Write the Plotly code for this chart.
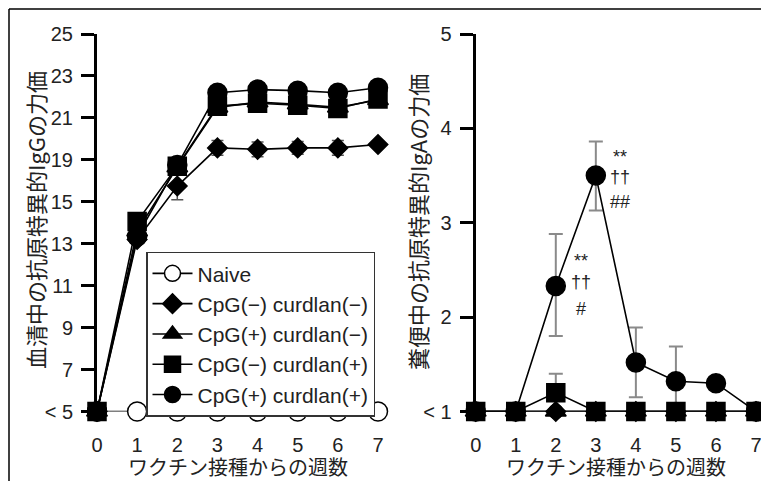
import numpy as np
import plotly.graph_objects as go

weeks = [0, 1, 2, 3, 4, 5, 6, 7]

# Left panel: serum antigen-specific IgG titer (axis is evenly spaced ticks)
igg_tick_vals = [5, 7, 9, 11, 13, 15, 19, 21, 23, 25]
igg_tick_text = ["< 5", "7", "9", "11", "13", "15", "19", "21", "23", "25"]

igg_naive = [5, 5, 5, 5, 5, 5, 5, 5]
igg_cpg_m_cur_m = [5, 13.2, 16.5, 19.57, 19.5, 19.57, 19.57, 19.73]
igg_cpg_m_cur_m_err = [0, 0, 1.3, 0.35, 0.35, 0.3, 0.35, 0.1]
igg_cpg_p_cur_m = [5, 13.6, 18.3, 21.5, 21.75, 21.65, 21.5, 21.85]
igg_cpg_m_cur_p = [5, 14.06, 18.4, 21.56, 21.7, 21.6, 21.45, 21.9]
igg_cpg_p_cur_p = [5, 13.35, 18.5, 22.2, 22.35, 22.3, 22.2, 22.44]

# Right panel: fecal antigen-specific IgA titer
iga_tick_vals = [1, 2, 3, 4, 5]
iga_tick_text = ["< 1", "2", "3", "4", "5"]

iga_naive = [1, 1, 1, 1, 1, 1, 1, 1]
iga_cpg_m_cur_m = [1, 1, 1, 1, 1, 1, 1, 1]
iga_cpg_p_cur_m = [1, 1, 1.0, 1, 1, 1, 1, 1]
iga_cpg_m_cur_p = [1, 1, 1.2, 1, 1, 1, 1, 1]
iga_cpg_m_cur_p_err = [0, 0, 0.2, 0, 0, 0, 0, 0]
iga_cpg_p_cur_p = [1, 1, 2.33, 3.5, 1.52, 1.32, 1.3, 1.0]
iga_cpg_p_cur_p_err_up = [0, 0, 0.55, 0.36, 0.37, 0.37, 0, 0]
iga_cpg_p_cur_p_err_dn = [0, 0, 0.53, 0.37, 0.37, 0.3, 0, 0]

names = ["Naive", "CpG(\u2212) curdlan(\u2212)", "CpG(+) curdlan(\u2212)",
         "CpG(\u2212) curdlan(+)", "CpG(+) curdlan(+)"]

sig_w2 = ["**", "\u2020\u2020", "#"]
sig_w3 = ["**", "\u2020\u2020", "##"]

# mapping of IgG titer to evenly-spaced axis positions
igg_pos_idx = list(range(len(igg_tick_vals)))


def gpos(v):
    return np.interp(np.asarray(v, dtype=float), igg_tick_vals, igg_pos_idx)


LATIN = "Liberation Sans, Arial, sans-serif"
CJK = "Noto Sans CJK JP"

fig = go.Figure()

line_k = dict(color="black", width=1.6)


def add(x, y, name, symbol, size, fill, xa, ya, show, rank, err=None):
    fig.add_trace(go.Scatter(
        x=x, y=y, name=name, mode="lines+markers",
        line=line_k,
        marker=dict(symbol=symbol, size=size, color=fill,
                    line=dict(color="black", width=1.5)),
        error_y=err, xaxis=xa, yaxis=ya, showlegend=show,
        legendrank=rank, cliponaxis=False))


# ---- left panel ----
g_d = gpos(igg_cpg_m_cur_m)
d_up = gpos(np.array(igg_cpg_m_cur_m) + np.array(igg_cpg_m_cur_m_err)) - g_d
d_dn = g_d - gpos(np.array(igg_cpg_m_cur_m) - np.array(igg_cpg_m_cur_m_err))
d_up[2] = 0
err_d = dict(type="data", array=d_up, arrayminus=d_dn, symmetric=False,
             color="#555555", thickness=1.5, width=6)

add(weeks, gpos(igg_naive), names[0], "circle", 19, "white", "x", "y", True, 1)
add(weeks, g_d, names[1], "diamond", 15, "black", "x", "y", True, 2, err_d)
add(weeks, gpos(igg_cpg_p_cur_m), names[2], "triangle-up", 18, "black", "x", "y", True, 3)
add(weeks, gpos(igg_cpg_p_cur_p), names[4], "circle", 19, "black", "x", "y", True, 5)
add(weeks, gpos(igg_cpg_m_cur_p), names[3], "square", 18, "black", "x", "y", True, 4)

# ---- right panel ----
err_c = dict(type="data", array=iga_cpg_p_cur_p_err_up,
             arrayminus=iga_cpg_p_cur_p_err_dn, symmetric=False,
             color="#8a8a8a", thickness=2, width=7)
err_s = dict(type="data", array=iga_cpg_m_cur_p_err,
             arrayminus=[0] * 8, symmetric=False,
             color="#8a8a8a", thickness=2, width=7)
add(weeks, iga_naive, names[0], "circle", 14, "white", "x2", "y2", False, 1)
add(weeks, iga_cpg_m_cur_m, names[1], "diamond", 15, "black", "x2", "y2", False, 2)
add(weeks, iga_cpg_p_cur_m, names[2], "triangle-up", 18, "black", "x2", "y2", False, 3)
add(weeks, iga_cpg_p_cur_p, names[4], "circle", 19, "black", "x2", "y2", False, 5, err_c)
add(weeks, iga_cpg_m_cur_p, names[3], "square", 18, "black", "x2", "y2", False, 4, err_s)

W, H = 769, 481
OFF = 8  # page body margin offset


def px_x(p):
    return (p - OFF) / W


def px_y(p):
    return 1 - (p - OFF) / H


ydom = [px_y(411.5), px_y(34)]

xcommon = dict(range=[0, 7], tickvals=weeks, ticktext=[str(w) for w in weeks],
               showline=False, showgrid=False, zeroline=False, ticks="",
               ticklabelstandoff=19, tickfont=dict(family=LATIN, size=20, color="#222"),
               automargin=False, fixedrange=True)
ycommon = dict(showline=True, linewidth=3, linecolor="black", showgrid=False,
               zeroline=False, ticks="outside", ticklen=13, tickwidth=3,
               tickcolor="black", tickfont=dict(family=LATIN, size=20, color="#222"),
               ticklabelstandoff=4, automargin=False, fixedrange=True)

fig.update_layout(
    width=W, height=H, margin=dict(l=0, r=0, t=0, b=0, autoexpand=False),
    paper_bgcolor="white", plot_bgcolor="white",
    xaxis=dict(domain=[px_x(97), px_x(378)], anchor="y", **xcommon),
    yaxis=dict(domain=ydom, anchor="x", range=[0, 9],
               tickvals=igg_pos_idx, ticktext=igg_tick_text, **ycommon),
    xaxis2=dict(domain=[px_x(475.7), px_x(756)], anchor="y2", **xcommon),
    yaxis2=dict(domain=ydom, anchor="x2", range=[1, 5],
                tickvals=iga_tick_vals, ticktext=iga_tick_text, **ycommon),
    legend=dict(x=px_x(146), y=px_y(251.7), xanchor="left", yanchor="top",
                bordercolor="#333", borderwidth=1.5, bgcolor="white",
                font=dict(family=LATIN, size=21, color="#222"),
                tracegroupgap=0, itemwidth=40),
    showlegend=True,
)

annos = [
    dict(text="血清中の抗原特異的IgGの力価", x=px_x(35), y=px_y(220), textangle=-90,
         font=dict(family=CJK, size=22, color="#222")),
    dict(text="糞便中の抗原特異的IgAの力価", x=px_x(417), y=px_y(222), textangle=-90,
         font=dict(family=CJK, size=22, color="#222")),
    dict(text="ワクチン接種からの週数", x=px_x(237.5), y=px_y(466),
         font=dict(family=CJK, size=20, color="#222")),
    dict(text="ワクチン接種からの週数", x=px_x(616), y=px_y(466),
         font=dict(family=CJK, size=20, color="#222")),
]
for a in annos:
    a.update(xref="paper", yref="paper", showarrow=False,
             xanchor="center", yanchor="middle")
    fig.add_annotation(**a)

sig_y2 = [2.6, 2.37, 2.09]
sig_y3 = [3.7, 3.48, 3.22]
for t, yy in zip(sig_w2, sig_y2):
    fig.add_annotation(text=t, x=2.62, y=yy, xref="x2", yref="y2", showarrow=False,
                       font=dict(family=LATIN, size=18, color="#222"))
for t, yy in zip(sig_w3, sig_y3):
    fig.add_annotation(text=t, x=3.6, y=yy, xref="x2", yref="y2", showarrow=False,
                       font=dict(family=LATIN, size=18, color="#222"))

# outer frame lines (top and left), at the very edge of the figure
fig.add_shape(type="line", xref="paper", yref="paper",
              x0=1 / W, x1=1, y0=1 - 1 / H, y1=1 - 1 / H,
              line=dict(color="black", width=1.5))
fig.add_shape(type="line", xref="paper", yref="paper",
              x0=1 / W, x1=1 / W, y0=0, y1=1 - 1 / H,
              line=dict(color="black", width=1.5))

fig.write_html("out.html")
